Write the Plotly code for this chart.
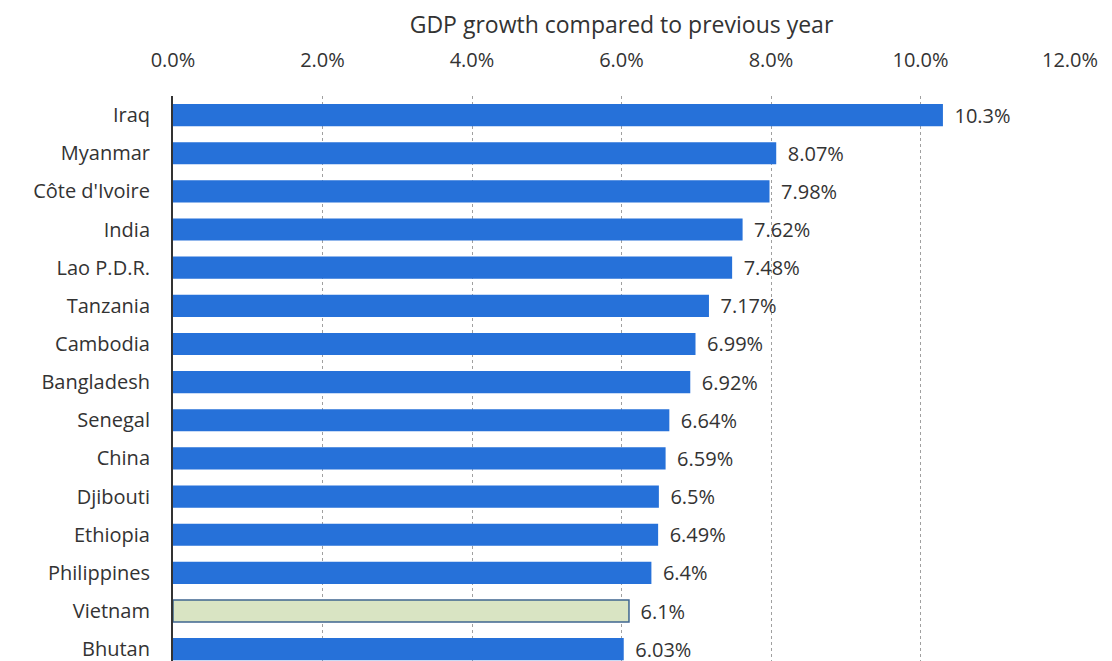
import plotly.graph_objects as go

countries = ["Iraq", "Myanmar", "Côte d'Ivoire", "India", "Lao P.D.R.", "Tanzania",
             "Cambodia", "Bangladesh", "Senegal", "China", "Djibouti", "Ethiopia",
             "Philippines", "Vietnam", "Bhutan"]
growth = [10.3, 8.07, 7.98, 7.62, 7.48, 7.17, 6.99, 6.92, 6.64, 6.59, 6.5, 6.49, 6.4, 6.1, 6.03]
tick_vals = [0, 2, 4, 6, 8, 10, 12]
tick_text = ["0.0%", "2.0%", "4.0%", "6.0%", "8.0%", "10.0%", "12.0%"]
highlight = "Vietnam"

colors = ["#D9E4C3" if c == highlight else "#2671D9" for c in countries]
line_colors = ["#3F6690" if c == highlight else "#2671D9" for c in countries]
line_widths = [1.5 if c == highlight else 0 for c in countries]

FONT = "Open Sans"
TXT = "#333333"

fig = go.Figure(go.Bar(
    x=growth, y=countries, orientation="h",
    marker=dict(color=colors, line=dict(color=line_colors, width=line_widths)),
    width=0.58,
    text=[f"\u00a0\u2009{v}%" for v in growth], textposition="outside",
    constraintext="none",
    textfont=dict(family=FONT, size=20, color=TXT),
    cliponaxis=False,
))

fig.update_layout(
    width=1112, height=661,
    margin=dict(l=173, r=42, t=96, b=0),
    plot_bgcolor="white", paper_bgcolor="white",
    showlegend=False,
    font=dict(family=FONT, size=20, color=TXT),
    xaxis=dict(
        side="top", range=[0, 12], tickvals=tick_vals, ticktext=tick_text,
        showgrid=True, gridcolor="#A0A0A0", griddash="dot", gridwidth=1,
        zeroline=False, ticks="outside", ticklen=20, tickcolor="white",
        tickfont=dict(family=FONT, size=20, color=TXT),
        title=dict(text="GDP growth compared to previous year",
                   font=dict(family=FONT, size=23, color=TXT), standoff=5),
    ),
    yaxis=dict(
        type="category", categoryorder="array", categoryarray=countries,
        range=[14.31, -0.5], showgrid=False,
        showline=True, linecolor="#333333", linewidth=2,
        ticks="outside", ticklen=17, tickcolor="white",
        tickfont=dict(family=FONT, size=20, color=TXT),
    ),
    bargap=0.42,
)

fig.write_html("out.html")
